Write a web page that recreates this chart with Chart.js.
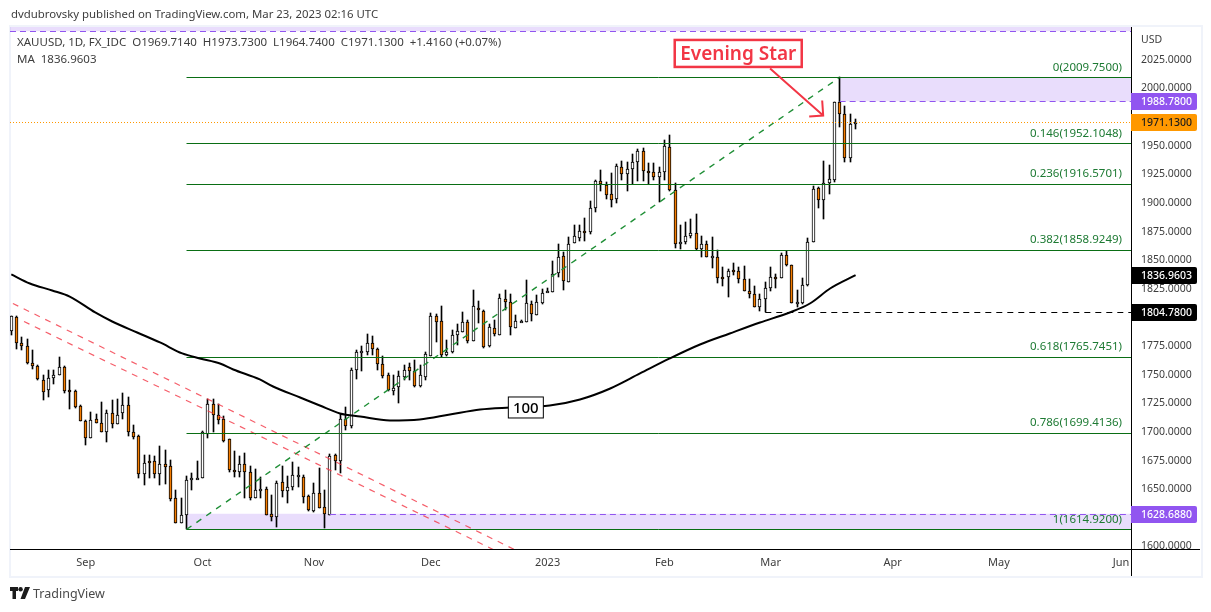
<!DOCTYPE html>
<html>
<head>
<meta charset="utf-8">
<title>XAUUSD</title>
<script src="https://cdn.jsdelivr.net/npm/chart.js@4/dist/chart.umd.min.js"></script>
<style>
    html, body { margin: 0; padding: 0; background: #fff; width: 1211px; height: 612px; overflow: hidden; }
    body { font-family: "Noto Sans", sans-serif; color: #3d3d3d; }
    .frame { position: absolute; left: 9px; top: 25px; width: 1190px; height: 549px; border: 2px solid #f0f3fa; }
    canvas { position: absolute; left: 0; top: 0; }
    .txt { position: absolute; white-space: pre; font-size: 11.4px; line-height: 16px; }
    .tv { position: absolute; left: 10px; top: 586px; }
</style>
</head>
<body>
<div class="frame"></div>
<canvas id="chart" width="1211" height="612"></canvas>
<div class="txt" style="left:11px;top:6px;">dvdubrovsky published on TradingView.com, Mar 23, 2023 02:16 UTC</div>
<div class="txt" style="left:17px;top:34px;font-size:11.5px;">XAUUSD, 1D, FX_IDC  O1969.7140  H1973.7300  L1964.7400  C1971.1300  +1.4160 (+0.07%)</div>
<div class="txt" style="left:17px;top:51px;font-size:11.5px;">MA  1836.9603</div>
<svg class="tv" width="20" height="14" viewBox="0 0 20 14">
    <path d="M0 1h8v4H6v8H2.5V5H0z M15 1h5l-5 12h-4.5z" fill="#1c1c1c"/>
    <circle cx="10.6" cy="3.2" r="2.2" fill="#1c1c1c"/>
</svg>
<div class="txt" style="left:33px;top:585px;font-size:12.5px;line-height:18px;color:#4a4a4a;">TradingView</div>

<script>
// --- Dados ---
const opens = [
    1788.1, 1800.3, 1777.9, 1775.3, 1760.4, 1757.8, 1745.6, 1736.9, 1747.3, 1749.7,
    1756.9, 1736.9, 1736, 1722.9, 1709.8, 1694.9, 1711.5, 1708, 1699.9, 1716.8,
    1706.9, 1716.5, 1723.8, 1700.2, 1696.7, 1663.5, 1674.8, 1674.8, 1663.5, 1672.2,
    1670.5, 1642.5, 1620.7, 1627.7, 1658.2, 1659.4, 1660, 1698.4, 1724.6, 1715,
    1711.5, 1694.1, 1667, 1665, 1672.2, 1665.2, 1642.5, 1648.6, 1650.4, 1628.6,
    1625.9, 1656.5, 1648.6, 1651.9, 1660.9, 1660.9, 1644.3, 1631.2, 1646.9, 1634.7,
    1627.7, 1680.1, 1674.6, 1711.5, 1705.4, 1754.3, 1769.7, 1770, 1777.9, 1772.6,
    1759.5, 1750.2, 1735.7, 1739.2, 1747.9, 1756.6, 1753.2, 1739.8, 1747.9, 1766.5,
    1801.4, 1797.1, 1767.1, 1769.7, 1784.6, 1787.2, 1796.2, 1779.3, 1808.4, 1805.8,
    1774.7, 1791, 1785.1, 1816.3, 1813.7, 1791, 1796.2, 1796.2, 1811.9, 1802.3,
    1812.8, 1822.1, 1822.1, 1838.7, 1854.1, 1831.1, 1864.9, 1869.3, 1875.7, 1874.5,
    1895.8, 1919.4, 1915.3, 1908, 1903.3, 1931.6, 1925.2, 1929.6, 1935.7, 1945.6,
    1928.1, 1927.2, 1922.6, 1926.9, 1949.1, 1911.5, 1864, 1865.8, 1871.6, 1873.9,
    1860.2, 1864.3, 1851.8, 1853, 1835.5, 1835.2, 1841.6, 1840.8, 1833.8, 1823.3,
    1820.7, 1809, 1816.3, 1825.6, 1835.5, 1834.6, 1854.7, 1846, 1812.5, 1812.5,
    1828, 1865.8, 1913.2, 1902.8, 1917.3, 1920.2, 1988.4, 1977.9, 1939.4, 1969.714
];
const highs = [
    1801.5, 1800.9, 1782.6, 1781.4, 1771.8, 1758.7, 1749.4, 1753.7, 1754.3, 1765.1,
    1757.8, 1745, 1736.9, 1723.7, 1710.7, 1717.3, 1715.3, 1725.8, 1718.8, 1727.5,
    1728.4, 1734.2, 1730.7, 1706.3, 1697.6, 1679.5, 1679.5, 1678.9, 1687.4, 1683.9,
    1675.1, 1648.9, 1642, 1661.7, 1663.8, 1674.3, 1700.8, 1728.4, 1728.4, 1724.6,
    1714.1, 1694.1, 1683, 1678.9, 1681.8, 1670.5, 1667.3, 1660.6, 1651.9, 1644.6,
    1657.1, 1669.9, 1661.2, 1674, 1669.3, 1662.6, 1645.2, 1655.6, 1668.7, 1648.9,
    1681, 1681, 1715.9, 1722, 1756.1, 1771.8, 1774.7, 1786, 1784, 1773.5,
    1766.5, 1751.4, 1749.4, 1753.2, 1758.1, 1760.1, 1763.3, 1758.1, 1769.7, 1803.5,
    1803.2, 1809.6, 1779.9, 1789.5, 1793.9, 1805.2, 1797.4, 1823.6, 1814, 1806.7,
    1793.9, 1798.2, 1820.7, 1823.6, 1820.1, 1802.3, 1798.2, 1832.9, 1814, 1819.2,
    1825, 1825.6, 1849.2, 1864.6, 1857.6, 1869.9, 1881.2, 1880.4, 1886.5, 1901.3,
    1920.5, 1928.4, 1918.2, 1925.8, 1934.2, 1937.1, 1935.7, 1942.4, 1947.3, 1948.2,
    1934.5, 1934.5, 1931.3, 1954.6, 1959.8, 1917.6, 1881.2, 1883.8, 1885.6, 1890,
    1871.3, 1866.4, 1869.9, 1859.1, 1844.5, 1842.5, 1847.2, 1843.7, 1845.1, 1833.2,
    1827.1, 1820.7, 1830.9, 1844, 1838.1, 1856.2, 1858, 1846, 1823.6, 1834.6,
    1869.6, 1914.4, 1913.8, 1937.1, 1932.8, 1988.4, 2009.75, 1985.1, 1977.9, 1973.73
];
const lows = [
    1784.6, 1772.4, 1771.2, 1759.3, 1754.9, 1745.3, 1727.8, 1730.4, 1741.8, 1749.7,
    1733.9, 1720, 1720.8, 1709.8, 1688.5, 1694.9, 1708, 1699.9, 1691.1, 1703.4,
    1706.9, 1711, 1696.4, 1693.8, 1659.7, 1653.6, 1659.7, 1659.4, 1653.6, 1654.8,
    1639.6, 1620.7, 1620.7, 1614.92, 1649.5, 1658.8, 1660, 1694.6, 1699.9, 1706.6,
    1691.1, 1665, 1660.6, 1660.6, 1642.2, 1640.8, 1642.5, 1642.5, 1627.7, 1622.2,
    1616.9, 1643.1, 1637.9, 1649.5, 1651.9, 1637.9, 1631.2, 1630.3, 1633.5, 1616,
    1627.7, 1666.4, 1663.8, 1701.6, 1703.7, 1746.5, 1753.1, 1767.4, 1767.1, 1754,
    1747, 1735.4, 1731.9, 1725.2, 1745, 1745, 1739.2, 1739.2, 1745, 1766.2,
    1778.4, 1765.1, 1766.2, 1768.8, 1776.4, 1787.2, 1777.6, 1779.3, 1795, 1773.5,
    1774.1, 1783.7, 1784.6, 1806.7, 1784.3, 1790.7, 1796.2, 1796.2, 1796.5, 1802,
    1811.9, 1822.1, 1822.1, 1835.2, 1824.4, 1830.6, 1864.9, 1867.2, 1866.4, 1872.5,
    1892.3, 1910.9, 1903.1, 1896.1, 1900.4, 1920.5, 1910.9, 1917, 1919.6, 1918.8,
    1916.2, 1920.5, 1901, 1920.5, 1910.3, 1861.1, 1860.2, 1864.3, 1869, 1859.1,
    1852.4, 1852.4, 1842.8, 1830, 1827.1, 1818.3, 1836.7, 1829.7, 1822.7, 1816.6,
    1809, 1805.5, 1804.78, 1823, 1825.9, 1834.6, 1844.8, 1812.8, 1809, 1811.9,
    1827.1, 1865.8, 1895.2, 1885.9, 1908, 1918.2, 1966.2, 1935.7, 1935.7, 1964.74
];
const closes = [
    1801.5, 1777.9, 1775.3, 1760.1, 1757.5, 1746.2, 1735.1, 1747.3, 1750, 1756.9,
    1735.7, 1736, 1721.7, 1709.8, 1694.9, 1710.7, 1708, 1699.9, 1716.8, 1707.2,
    1715, 1723.8, 1700.2, 1695.8, 1663.5, 1673.1, 1674, 1663.5, 1672.2, 1669.6,
    1641.4, 1620.7, 1627.7, 1658.2, 1660, 1660, 1699.9, 1724.6, 1715, 1710.7,
    1692, 1667, 1665.2, 1672.2, 1665.2, 1642.5, 1649.5, 1650.4, 1627.7, 1625.6,
    1655.6, 1648.6, 1652.1, 1662.6, 1662.6, 1643.4, 1632.1, 1646.9, 1633.8, 1628.6,
    1679.2, 1674.6, 1711.5, 1705.4, 1754.3, 1770, 1770.3, 1777.9, 1772.6, 1759.5,
    1748.8, 1736.3, 1738.6, 1748.5, 1753.7, 1753.2, 1740.1, 1749.4, 1767.7, 1801.4,
    1796.2, 1767.1, 1770, 1784.8, 1788.3, 1796.2, 1779.3, 1810.2, 1806.4, 1774.4,
    1791.8, 1786, 1817.2, 1813.4, 1791.5, 1797.1, 1796.8, 1812.8, 1803.2, 1813.7,
    1821.5, 1822.7, 1838.1, 1853, 1831.7, 1864.3, 1871.3, 1875.7, 1874.5, 1895.8,
    1919.4, 1916.2, 1906.8, 1902.5, 1931.9, 1925.2, 1929.8, 1936, 1945.6, 1927.8,
    1926.1, 1922.6, 1927.2, 1950.2, 1911.2, 1864, 1866.1, 1871.3, 1873.9, 1859.7,
    1864.3, 1852.7, 1853.9, 1834.3, 1834.6, 1840.8, 1839.6, 1833.5, 1823, 1820.4,
    1809, 1816.3, 1825.6, 1835.5, 1834.6, 1854.7, 1845.7, 1812.8, 1813.1, 1828.5,
    1865.8, 1912.4, 1902.8, 1917.6, 1921.1, 1988.4, 1977.9, 1939.4, 1969.1, 1971.13
];

// Media movel de 100 dias (pontos lidos a cada poucos candles)
const maBars = [0, 3.5, 7.7, 11, 15.8, 19, 23.7, 28, 32.2, 35.5, 39.3, 41.8, 46.8, 49.3, 54.4, 58.1, 61.9, 65.7, 71.3, 76.9, 82.6, 88.3, 93.9, 101.4, 107.1, 112.8, 118.4, 124, 129.7, 135.3, 141, 146.6, 150.4, 154.2, 159];
const maValues = [1837.6, 1829.7, 1823.6, 1818.3, 1804.4, 1796.5, 1786.9, 1778.2, 1768.6, 1764.2, 1759.8, 1754.6, 1745.9, 1739.7, 1730.1, 1723.1, 1716.2, 1713.5, 1710, 1710.9, 1715.3, 1719.7, 1721.4, 1723.1, 1728.4, 1738, 1751.1, 1764.2, 1776.4, 1786, 1795.6, 1804.4, 1812.2, 1825.3, 1836.96];

// Niveis de Fibonacci
const fibRatios = ['0', '0.146', '0.236', '0.382', '0.618', '0.786', '1'];
const fibLevels = [2009.75, 1952.1048, 1916.5701, 1858.9249, 1765.7451, 1699.4136, 1614.92];
const fibStartBar = 33;
const trendBars = [33, 156];
const trendPrices = [1614.92, 2009.75];

// Canal vermelho
const redUpperBars = [0.3, 94.9];
const redUpperPrices = [1812.2, 1597];
const redLowerBars = [2.4, 90.9];
const redLowerPrices = [1796.5, 1597];

// Eixos
const firstBar = -0.245;
const lastBar = 210.87;
const priceMin = 1597.8;
const priceMax = 2053.7;
const monthBars = [14, 36, 57, 79, 101, 123, 143, 166, 186, 209];
const monthLabels = ['Sep', 'Oct', 'Nov', 'Dec', '2023', 'Feb', 'Mar', 'Apr', 'May', 'Jun'];
const priceTicks = [1600, 1625, 1650, 1675, 1700, 1725, 1750, 1775, 1800, 1825, 1850, 1875, 1900, 1925, 1950, 2000, 2025];

// Etiquetas no eixo de precos
const tagPrices = [1988.78, 1971.13, 1836.9603, 1804.78, 1628.688];
const tagFills = ['#9155f0', '#ff9800', '#000000', '#000000', '#9155f0'];
const tagInks = ['#ffffff', '#1c1c1c', '#ffffff', '#ffffff', '#ffffff'];

// Anotacoes
const lastClose = 1971.13;
const swingLow = 1804.78;
const swingLowBar = 142;
const zoneTop = 2050;
const resistanceLow = 1988.78;
const resistanceBar = 156;
const supportHigh = 1628.688;
const supportDashBar = 60;
const arrowBars = [142.9, 152.9];
const arrowPrices = [2017.5, 1976.4];
const starBar = 136.9;
const starPrice = 2030.6;
const maLabelBar = 96.9;
const maLabelPrice = 1721.4;

const UI_FONT = '"Noto Sans", sans-serif';
const GREEN = '#0a6e14';
const PURPLE = '#9155f0';
const BAND = 'rgba(145, 85, 240, 0.2)';
const RED = '#f23645';

function line(xs, ys, color, extra) {
    return Object.assign({
        type: 'line',
        data: xs.map((x, i) => ({ x: x, y: ys[i] })),
        borderColor: color,
        borderWidth: 1,
        pointRadius: 0,
        tension: 0,
        fill: false
    }, extra || {});
}

function band(from, top, bottom) {
    return line([from, lastBar], [top, top], 'rgba(0,0,0,0)', {
        borderWidth: 0,
        backgroundColor: BAND,
        fill: { value: bottom },
        order: 20
    });
}

const bars = opens.map((o, i) => i);

const datasets = [
    band(fibStartBar, supportHigh, fibLevels[6]),
    band(resistanceBar, fibLevels[0], resistanceLow),
    band(firstBar, priceMax, zoneTop),
    // pavios e corpos
    {
        type: 'bar',
        grouped: false,
        order: 11,
        barThickness: 1,
        backgroundColor: '#000',
        borderWidth: 0,
        data: bars.map(i => ({ x: i, y: [lows[i], highs[i]] }))
    },
    {
        type: 'bar',
        grouped: false,
        order: 10,
        barThickness: 3,
        borderWidth: 1,
        borderColor: '#000',
        borderSkipped: false,
        backgroundColor: bars.map(i => closes[i] >= opens[i] ? '#ffffff' : '#f57c00'),
        data: bars.map(i => ({ x: i, y: [opens[i], closes[i]] }))
    },
    line(redUpperBars, redUpperPrices, 'rgba(242, 54, 69, 0.8)', { borderWidth: 1.2, borderDash: [6, 6], order: 8 }),
    line(redLowerBars, redLowerPrices, 'rgba(242, 54, 69, 0.8)', { borderWidth: 1.2, borderDash: [6, 6], order: 8 }),
    line(trendBars, trendPrices, '#1f8f36', { borderWidth: 1.4, borderDash: [6, 6], order: 7 }),
    line([firstBar, lastBar], [lastClose, lastClose], '#ff9800', { borderDash: [1, 2], order: 6 }),
    line([swingLowBar, lastBar], [swingLow, swingLow], '#000', { borderDash: [6, 5], order: 6 }),
    line([firstBar, lastBar], [zoneTop, zoneTop], PURPLE, { borderDash: [6, 4], order: 6 }),
    line([resistanceBar, lastBar], [resistanceLow, resistanceLow], PURPLE, { borderDash: [6, 4], order: 6 }),
    line([supportDashBar, lastBar], [supportHigh, supportHigh], PURPLE, { borderDash: [6, 4], order: 6 }),
    line(maBars, maValues, '#000', { borderWidth: 2, order: 1, cubicInterpolationMode: 'monotone' })
];

fibLevels.forEach(level => {
    datasets.push(line([fibStartBar, lastBar], [level, level], GREEN, { order: 5 }));
});

// Encaixa barras e linhas horizontais em pixels inteiros, como no grafico original
const snapMarks = {
    id: 'snapMarks',
    beforeDatasetsDraw(chart) {
        chart.data.datasets.forEach((ds, di) => {
            const points = chart.getDatasetMeta(di).data;
            if (ds.type === 'bar') {
                points.forEach(el => {
                    const top = Math.round(Math.min(el.y, el.base));
                    let bottom = Math.round(Math.max(el.y, el.base));
                    if (ds.barThickness === 3 && bottom - top < 2) bottom = top + 2;
                    el.x = Math.floor(el.x) + 0.5;
                    el.y = top;
                    el.base = bottom;
                    el.height = bottom - top;
                });
            } else if (ds.data[0].y === ds.data[ds.data.length - 1].y && ds.borderWidth > 0) {
                points.forEach(el => { el.y = Math.round(el.y) + 0.5; });
            }
        });
    }
};

const overlays = {
    id: 'overlays',
    afterDatasetsDraw(chart) {
        const { ctx, scales: { x, y }, chartArea } = chart;
        ctx.save();

        // rotulos de Fibonacci
        ctx.font = '11.5px ' + UI_FONT;
        ctx.fillStyle = '#1d7a33';
        ctx.textAlign = 'right';
        ctx.textBaseline = 'middle';
        fibLevels.forEach((level, i) => {
            ctx.fillText(fibRatios[i] + '(' + level.toFixed(4) + ')', chartArea.right - 9, y.getPixelForValue(level) - 10);
        });

        // rotulo da media
        const mx = x.getPixelForValue(maLabelBar);
        const my = y.getPixelForValue(maLabelPrice);
        ctx.fillStyle = '#fff';
        ctx.strokeStyle = '#000';
        ctx.lineWidth = 1;
        ctx.fillRect(mx - 17.5, my - 10.5, 35, 21);
        ctx.strokeRect(mx - 17.5, my - 10.5, 35, 21);
        ctx.fillStyle = '#000';
        ctx.font = '500 15px ' + UI_FONT;
        ctx.textAlign = 'center';
        ctx.fillText('100', mx, my + 1);

        // seta
        const ax0 = x.getPixelForValue(arrowBars[0]);
        const ay0 = y.getPixelForValue(arrowPrices[0]);
        const ax1 = x.getPixelForValue(arrowBars[1]);
        const ay1 = y.getPixelForValue(arrowPrices[1]);
        ctx.strokeStyle = RED;
        ctx.lineWidth = 2;
        ctx.beginPath();
        ctx.moveTo(ax0, ay0);
        ctx.lineTo(ax1, ay1);
        ctx.moveTo(ax1 - 14, ay1 + 1);
        ctx.lineTo(ax1, ay1);
        ctx.lineTo(ax1 - 1, ay1 - 15);
        ctx.stroke();

        // caixa Evening Star
        const sx = x.getPixelForValue(starBar);
        const sy = y.getPixelForValue(starPrice);
        ctx.lineWidth = 2.5;
        ctx.fillStyle = '#fff';
        ctx.fillRect(sx - 63.5, sy - 13.5, 127, 27);
        ctx.strokeRect(sx - 63.5, sy - 13.5, 127, 27);
        ctx.fillStyle = RED;
        ctx.font = '600 19px ' + UI_FONT;
        ctx.fillText('Evening Star', sx, sy + 1);

        ctx.restore();
    },
    afterDraw(chart) {
        const { ctx, scales: { y }, chartArea } = chart;
        ctx.save();

        // esconde a parte do 1600 que passa do eixo
        ctx.fillStyle = '#fff';
        ctx.fillRect(chartArea.right + 1, chartArea.bottom, 68, 12);

        ctx.fillStyle = '#000';
        ctx.fillRect(chartArea.right, chartArea.top, 1, 549);
        ctx.fillRect(chartArea.left, chartArea.bottom, 1190, 1);

        ctx.font = '500 10.5px ' + UI_FONT;
        ctx.textAlign = 'left';
        ctx.textBaseline = 'middle';
        tagPrices.forEach((price, i) => {
            const py = Math.round(y.getPixelForValue(price));
            ctx.fillStyle = tagFills[i];
            ctx.beginPath();
            ctx.roundRect(chartArea.right, py - 8, 66, 17, [0, 2, 2, 0]);
            ctx.fill();
            ctx.fillStyle = tagInks[i];
            ctx.fillText(price.toFixed(4), chartArea.right + 10, py + 1);
        });

        ctx.font = '10.5px ' + UI_FONT;
        ctx.fillStyle = '#3d3d3d';
        ctx.fillText('USD', chartArea.right + 10, 40);
        ctx.restore();
    }
};

new Chart(document.getElementById('chart'), {
    type: 'bar',
    data: { datasets: datasets },
    options: {
        responsive: false,
        animation: false,
        events: [],
        layout: { padding: { left: 10, top: 27, right: 10, bottom: 36 } },
        plugins: { legend: { display: false }, tooltip: { enabled: false } },
        scales: {
            x: {
                type: 'linear',
                offset: false,
                min: firstBar,
                max: lastBar,
                grid: { display: false, drawTicks: false },
                border: { display: false },
                afterFit(scale) { scale.height = 27; },
                afterBuildTicks(scale) { scale.ticks = monthBars.map(v => ({ value: v })); },
                ticks: {
                    autoSkip: false,
                    maxRotation: 0,
                    padding: 7,
                    color: '#3d3d3d',
                    font: { family: UI_FONT, size: 11 },
                    callback: value => monthLabels[monthBars.indexOf(value)]
                }
            },
            y: {
                type: 'linear',
                position: 'right',
                min: priceMin,
                max: priceMax,
                grid: { display: false, drawTicks: false },
                border: { display: false },
                afterFit(scale) { scale.width = 70; },
                afterBuildTicks(scale) { scale.ticks = priceTicks.map(v => ({ value: v })); },
                ticks: {
                    autoSkip: false,
                    padding: 10,
                    color: '#3d3d3d',
                    font: { family: UI_FONT, size: 10.5 },
                    callback: value => value.toFixed(4)
                }
            }
        }
    },
    plugins: [snapMarks, overlays]
});
</script>
</body>
</html>
